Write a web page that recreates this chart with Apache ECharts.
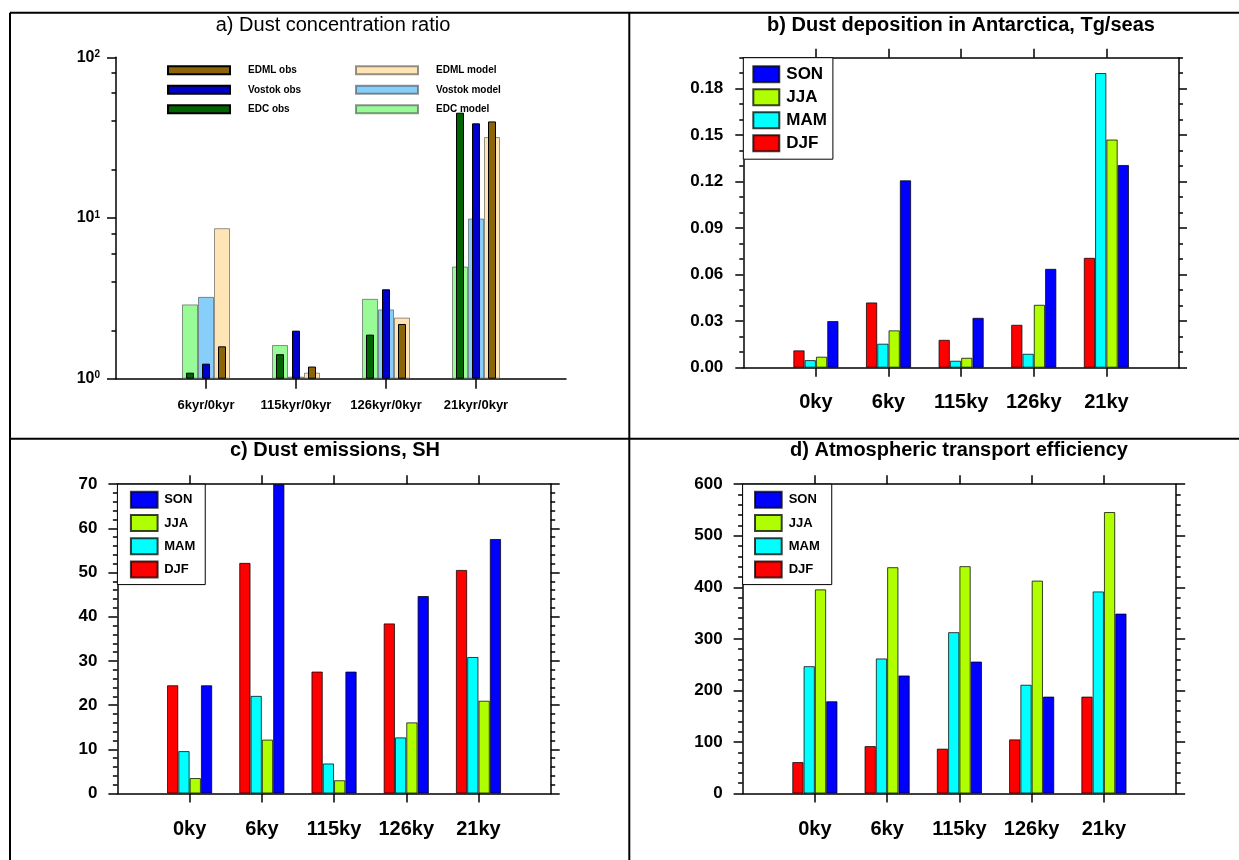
<!DOCTYPE html>
<html><head><meta charset="utf-8">
<script src="https://cdn.jsdelivr.net/npm/echarts@6/dist/echarts.min.js"></script>
<style>html,body{margin:0;padding:0;background:#fff}#c{width:1239px;height:860px}</style>
</head><body><div id="c"></div>
<script>
// ---- Panel a: dust concentration ratio (log scale) ----
const ratioCats = ['6kyr/0kyr', '115kyr/0kyr', '126kyr/0kyr', '21kyr/0kyr'];
const edcObs = [1.09, 1.42, 1.88, 45.2];
const vostokObs = [1.24, 1.99, 3.60, 38.8];
const edmlObs = [1.59, 1.19, 2.19, 39.9];
const edcModel = [2.90, 1.62, 3.14, 4.99];
const vostokModel = [3.23, 1.03, 2.70, 9.93];
const edmlModel = [8.64, 1.09, 2.40, 31.9];
const logMajor = [1, 10, 100];
const logMinor = [2, 4, 6, 8, 20, 40, 60, 80];

// ---- Panels b-d ----
const periods = ['0ky', '6ky', '115ky', '126ky', '21ky'];
const depDJF = [0.0112, 0.0421, 0.0180, 0.0277, 0.0709];
const depMAM = [0.0049, 0.0155, 0.0045, 0.0090, 0.1901];
const depJJA = [0.0071, 0.0241, 0.0064, 0.0406, 0.1472];
const depSON = [0.0301, 0.1209, 0.0322, 0.0638, 0.1308];
const depTicks = [0, 0.03, 0.06, 0.09, 0.12, 0.15, 0.18];

const emiDJF = [24.5, 52.2, 27.6, 38.5, 50.6];
const emiMAM = [9.6, 22.1, 6.8, 12.7, 30.9];
const emiJJA = [3.5, 12.2, 3.0, 16.1, 21.0];
const emiSON = [24.5, 70.0, 27.6, 44.7, 57.6];

const effDJF = [61, 92, 87, 105, 188];
const effMAM = [247, 262, 313, 211, 392];
const effJJA = [396, 439, 441, 413, 546];
const effSON = [179, 229, 256, 188, 349];

const seasons = ['SON', 'JJA', 'MAM', 'DJF'];

const FONT = '"Liberation Sans", Arial, Helvetica, sans-serif';
const AX = { color: '#000', width: 1.5 };
const padV = a => ['-', ...a, '-'];
const padC = a => ['', ...a, ''];
const showTick = (i, v) => v !== '';
const seasonColor = { DJF: '#ff0000', MAM: '#00ffff', JJA: '#b0ff00', SON: '#0000ff' };

function catAxis(grid, cats, pos, labels, fs, margin, tickLen) {
  return {
    type: 'category', gridIndex: grid, data: padC(cats), boundaryGap: false, position: pos,
    axisLine: { show: true, onZero: false, lineStyle: AX },
    axisTick: { show: true, interval: showTick, length: tickLen, lineStyle: AX },
    axisLabel: { show: labels, interval: 0, margin: margin, fontSize: fs, fontWeight: 'bold', color: '#000', fontFamily: FONT },
    splitLine: { show: false }
  };
}
function valAxis(grid, pos, min, max, interval, labels, fmt) {
  return {
    type: 'value', gridIndex: grid, position: pos, min: min, max: max, interval: interval,
    axisLine: { show: true, onZero: false, lineStyle: AX },
    axisTick: { show: true, length: 9, lineStyle: AX },
    minorTick: { show: true, splitNumber: 5, length: 4.5, lineStyle: AX },
    axisLabel: { show: labels, margin: 20, fontSize: 17, fontWeight: 'bold', color: '#000', fontFamily: FONT, formatter: fmt },
    splitLine: { show: false }, minorSplitLine: { show: false }
  };
}
function seasonSeries(name, data, xi, yi) {
  return {
    name: name, type: 'bar', xAxisIndex: xi, yAxisIndex: yi, data: padV(data),
    barWidth: 11.3, barGap: '0%',
    itemStyle: { color: seasonColor[name], borderColor: 'rgba(0,0,0,0.75)', borderWidth: 1 },
    emphasis: { disabled: true }, silent: true
  };
}
function modelSeries(name, data, color) {
  return {
    name: name, type: 'bar', xAxisIndex: 0, yAxisIndex: 0, data: padV(data),
    barWidth: 16, barGap: '0%', z: 2,
    itemStyle: { color: color, borderColor: 'rgba(60,60,60,0.55)', borderWidth: 1 },
    emphasis: { disabled: true }, silent: true
  };
}
function obsSeries(name, data, color) {
  return {
    name: name, type: 'bar', xAxisIndex: 1, yAxisIndex: 0, data: padV(data),
    barWidth: 8, barGap: '100%', z: 3,
    itemStyle: { color: color, borderColor: '#000', borderWidth: 1 },
    emphasis: { disabled: true }, silent: true
  };
}
function seasonLegend(left, top, padding, iw, fs, gap, tpad) {
  return {
    show: true, orient: 'vertical', left: left, top: top, data: seasons, selectedMode: false,
    icon: 'rect', itemWidth: iw, itemHeight: 16, itemGap: gap, padding: padding,
    backgroundColor: '#fff', borderColor: '#000', borderWidth: 1,
    textStyle: { fontSize: fs, fontWeight: 'bold', color: '#000', fontFamily: FONT, lineHeight: 16, padding: [0, 0, 0, tpad] }
  };
}
function smallLegend(left, names) {
  return {
    show: true, orient: 'vertical', left: left, top: 65.3, data: names, selectedMode: false,
    icon: 'rect', itemWidth: 62, itemHeight: 8, itemGap: 9.5, padding: 0,
    textStyle: { fontSize: 10, fontWeight: 'bold', color: '#000', fontFamily: FONT, lineHeight: 10, padding: [0, 0, 0, 13] }
  };
}
function titleText(text, x, y, weight) {
  return { type: 'text', silent: true, style: { text: text, x: x, y: y, align: 'center', verticalAlign: 'middle', font: weight + ' 20px ' + FONT, fill: '#000' } };
}
function line(x1, y1, x2, y2) {
  return { type: 'line', silent: true, shape: { x1: x1, y1: y1, x2: x2, y2: y2 }, style: { stroke: '#000', lineWidth: 2 } };
}

const option = {
  animation: false,
  backgroundColor: '#fff',
  grid: [
    { left: 116, top: 57.3, width: 450, height: 321.4, outerBoundsMode: 'none' },
    { left: 743.3, top: 57.7, width: 435.7, height: 310, outerBoundsMode: 'none' },
    { left: 117.4, top: 484.2, width: 433.3, height: 309.3, outerBoundsMode: 'none' },
    { left: 742.6, top: 484.2, width: 433.6, height: 309.3, outerBoundsMode: 'none' }
  ],
  xAxis: [
    catAxis(0, ratioCats, 'bottom', true, 13, 20, 10),
    { type: 'category', gridIndex: 0, data: padC(ratioCats), boundaryGap: false, show: false },
    catAxis(1, periods, 'bottom', true, 20, 25, 9),
    catAxis(1, periods, 'top', false, 20, 25, 9),
    catAxis(2, periods, 'bottom', true, 20, 26, 9),
    catAxis(2, periods, 'top', false, 20, 26, 9),
    catAxis(3, periods, 'bottom', true, 20, 26, 9),
    catAxis(3, periods, 'top', false, 20, 26, 9)
  ],
  yAxis: [
    { type: 'log', logBase: 10, gridIndex: 0, min: 1, max: 100, position: 'left',
      axisLine: { show: true, onZero: false, lineStyle: AX },
      axisTick: { show: true, length: 9, lineStyle: AX, customValues: logMajor },
      axisLabel: { customValues: logMajor, margin: 16,
        formatter: v => '{b|10}{s|' + Math.round(Math.log10(v)) + '}',
        rich: { b: { fontSize: 16, fontWeight: 'bold', fontFamily: FONT, color: '#000' },
                s: { fontSize: 10, fontWeight: 'bold', fontFamily: FONT, color: '#000', verticalAlign: 'top' } } },
      splitLine: { show: false } },
    { type: 'log', logBase: 10, gridIndex: 0, min: 1, max: 100, position: 'left',
      axisLine: { show: false }, axisLabel: { show: false }, splitLine: { show: false },
      axisTick: { show: true, length: 4.5, lineStyle: AX, customValues: logMinor } },
    // panel b
    { type: 'value', gridIndex: 1, position: 'left', min: 0, max: 0.2,
      axisLine: { show: true, onZero: false, lineStyle: AX },
      axisTick: { show: true, length: 8, lineStyle: AX, customValues: depTicks },
      axisLabel: { customValues: depTicks, margin: 20, fontSize: 17, fontWeight: 'bold', color: '#000', fontFamily: FONT, formatter: v => v.toFixed(2) },
      splitLine: { show: false } },
    { type: 'value', gridIndex: 1, position: 'left', min: 0, max: 0.2, interval: 0.01,
      axisLine: { show: false }, axisLabel: { show: false }, splitLine: { show: false },
      axisTick: { show: true, length: 4, lineStyle: AX } },
    { type: 'value', gridIndex: 1, position: 'right', min: 0, max: 0.2,
      axisLine: { show: true, onZero: false, lineStyle: AX },
      axisTick: { show: true, length: 8, lineStyle: AX, customValues: depTicks },
      axisLabel: { show: false }, splitLine: { show: false } },
    { type: 'value', gridIndex: 1, position: 'right', min: 0, max: 0.2, interval: 0.01,
      axisLine: { show: false }, axisLabel: { show: false }, splitLine: { show: false },
      axisTick: { show: true, length: 4, lineStyle: AX } },
    // panel c
    valAxis(2, 'left', 0, 70, 10, true),
    valAxis(2, 'right', 0, 70, 10, false),
    // panel d
    valAxis(3, 'left', 0, 600, 100, true),
    valAxis(3, 'right', 0, 600, 100, false)
  ],
  legend: [
    smallLegend(167, ['EDML obs', 'Vostok obs', 'EDC obs']),
    smallLegend(355, ['EDML model', 'Vostok model', 'EDC model']),
    seasonLegend(743.3, 57.7, [7.5, 6, 7, 9], 26, 17, 5, 2),
    seasonLegend(117.4, 484.2, [6.6, 10, 6.2, 12.5], 26.7, 13, 5.2, 1.6),
    seasonLegend(742.6, 484.2, [6.6, 12, 6.2, 11.4], 26.7, 13, 5.2, 2)
  ],
  series: [
    modelSeries('EDC model', edcModel, '#98fb98'),
    modelSeries('Vostok model', vostokModel, '#87cefa'),
    modelSeries('EDML model', edmlModel, '#ffe4b5'),
    obsSeries('EDC obs', edcObs, '#006400'),
    obsSeries('Vostok obs', vostokObs, '#0000cd'),
    obsSeries('EDML obs', edmlObs, '#8b6508'),
    seasonSeries('DJF', depDJF, 2, 2),
    seasonSeries('MAM', depMAM, 2, 2),
    seasonSeries('JJA', depJJA, 2, 2),
    seasonSeries('SON', depSON, 2, 2),
    seasonSeries('DJF', emiDJF, 4, 6),
    seasonSeries('MAM', emiMAM, 4, 6),
    seasonSeries('JJA', emiJJA, 4, 6),
    seasonSeries('SON', emiSON, 4, 6),
    seasonSeries('DJF', effDJF, 6, 8),
    seasonSeries('MAM', effMAM, 6, 8),
    seasonSeries('JJA', effJJA, 6, 8),
    seasonSeries('SON', effSON, 6, 8)
  ],
  graphic: [
    line(10, 12.7, 1239, 12.7),
    line(10, 12.7, 10, 860),
    line(629.3, 12.7, 629.3, 860),
    line(10, 438.7, 1239, 438.7),
    titleText('a) Dust concentration ratio', 333, 25.5, 'normal'),
    titleText('b) Dust deposition in Antarctica, Tg/seas', 961, 25, 'bold'),
    titleText('c) Dust emissions, SH', 335, 450, 'bold'),
    titleText('d) Atmospheric transport efficiency', 959, 450, 'bold')
  ]
};
const chart = echarts.init(document.getElementById('c'));
chart.setOption(option);
</script></body></html>
